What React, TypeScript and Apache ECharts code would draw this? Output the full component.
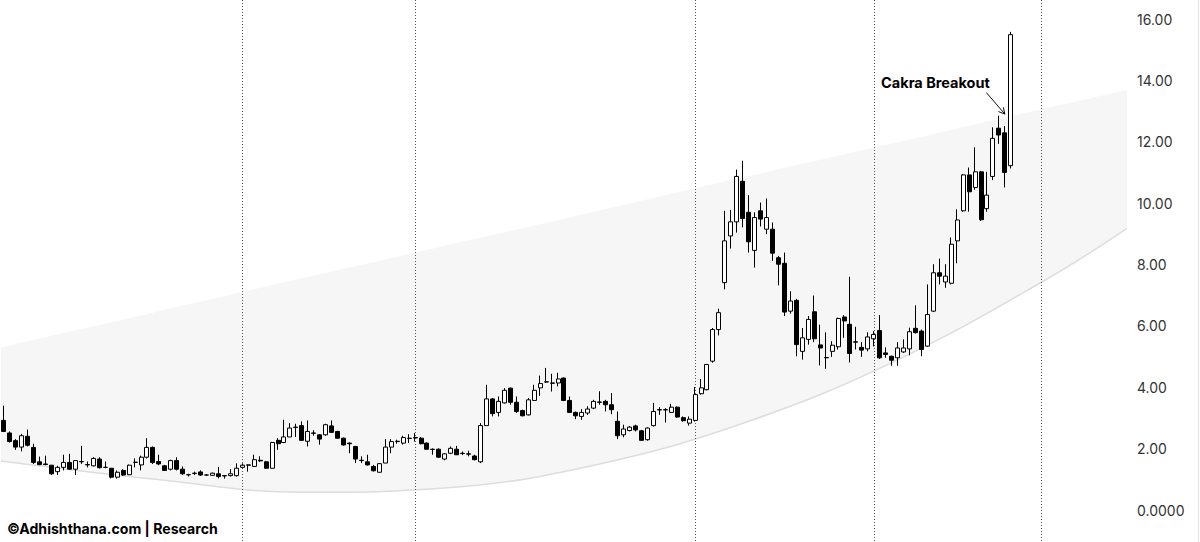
import React, { useEffect, useRef } from "react";
import * as echarts from "echarts";

// ---- Weekly OHLC values (slot 0 = leftmost candle) ----
const openP = [
  2.92, 2.51, 2.26, 2.05, 2.40, 2.04, 1.57, 1.50, 1.46, 1.25,
  1.39, 1.55, 1.33, 1.57, 1.48, 1.44, 1.66, 1.39, 1.36, 1.07,
  1.29, 1.15, 1.55, 1.47, 1.72, 2.04, 1.58, 1.44, 1.33, 1.61,
  1.33, 1.15, 1.20, 1.24, 1.14, 1.13, 1.18, 1.12, 1.12, 1.12,
  1.39, 1.46, 1.42, 1.62, 1.57, 1.36, 2.27, 2.20, 2.38, 2.70,
  2.75, 2.24, 2.51, 2.45, 2.45, 2.74, 2.56, 2.34, 2.18, 2.07,
  1.62, 1.57, 1.42, 1.23, 1.53, 2.05, 2.24, 2.18, 2.34, 2.36,
  2.34, 2.18, 1.98, 1.98, 1.66, 1.85, 1.98, 1.85, 1.83, 1.76,
  1.57, 2.75, 3.62, 3.18, 3.49, 3.97, 3.51, 3.24, 3.10, 3.57,
  3.98, 4.17, 4.14, 4.14, 4.30, 3.57, 3.18, 3.05, 3.16, 3.32,
  3.51, 3.54, 3.43, 2.89, 2.45, 2.59, 2.74, 2.58, 2.29, 2.75,
  3.27, 3.27, 3.18, 3.35, 3.01, 2.83, 2.92, 3.79, 3.92, 4.85,
  5.88, 7.41, 8.93, 9.39, 10.71, 9.70, 8.46, 9.75, 9.15, 9.15,
  8.22, 8.04, 6.48, 6.83, 5.17, 5.56, 6.46, 5.38, 4.97, 5.17,
  5.32, 6.29, 6.05, 5.48, 5.30, 5.25, 5.58, 5.85, 5.12, 5.01,
  4.96, 5.15, 5.25, 5.92, 5.83, 5.34, 6.48, 7.73, 7.43, 7.39,
  8.77, 9.75, 10.92, 10.51, 11.02, 9.82, 10.87, 12.44, 12.29, 11.22,
];
const highP = [
  3.40, 2.56, 2.31, 2.48, 2.62, 2.16, 1.74, 1.77, 1.46, 1.44,
  1.80, 1.83, 1.61, 2.09, 1.58, 1.72, 1.72, 1.58, 1.36, 1.29,
  1.33, 1.48, 1.68, 1.77, 2.34, 2.07, 1.80, 1.47, 1.64, 1.72,
  1.42, 1.18, 1.25, 1.29, 1.16, 1.22, 1.40, 1.12, 1.33, 1.52,
  1.52, 1.48, 1.80, 1.75, 1.60, 2.22, 2.34, 2.94, 2.83, 2.81,
  2.89, 2.92, 2.60, 2.47, 2.81, 2.92, 2.58, 2.36, 2.20, 2.09,
  1.75, 1.80, 1.47, 1.53, 2.31, 2.31, 2.29, 2.42, 2.47, 2.51,
  2.38, 2.20, 2.01, 2.01, 1.85, 2.07, 2.09, 1.91, 1.93, 1.80,
  2.83, 4.08, 3.65, 3.70, 3.97, 3.99, 3.70, 3.27, 3.65, 4.08,
  4.38, 4.63, 4.44, 4.47, 4.32, 3.70, 3.21, 3.29, 3.38, 3.59,
  3.87, 3.59, 3.81, 3.21, 2.78, 2.74, 2.78, 2.61, 2.69, 3.49,
  3.35, 3.32, 3.46, 3.38, 3.05, 3.05, 4.01, 4.27, 4.76, 5.93,
  6.56, 9.75, 9.78, 11.09, 11.38, 10.26, 9.70, 10.02, 10.15, 9.37,
  8.28, 8.39, 7.13, 6.88, 5.93, 6.32, 6.99, 6.04, 5.79, 5.50,
  6.27, 6.35, 7.60, 5.97, 5.47, 5.79, 5.83, 6.35, 5.30, 5.03,
  5.47, 5.56, 5.94, 6.67, 5.88, 7.35, 8.01, 8.19, 8.01, 8.88,
  9.80, 10.95, 11.16, 11.82, 11.05, 11.02, 12.47, 12.85, 12.51, 15.58,
];
const lowP = [
  2.54, 2.20, 1.96, 1.91, 2.07, 1.50, 1.46, 1.46, 1.14, 1.14,
  1.29, 1.31, 1.14, 1.50, 1.39, 1.42, 1.35, 1.36, 1.03, 1.02,
  1.11, 1.14, 1.39, 1.29, 1.68, 1.50, 1.46, 1.27, 1.29, 1.29,
  1.15, 1.09, 1.14, 1.11, 1.12, 1.11, 1.03, 1.02, 1.09, 1.09,
  1.36, 1.25, 1.40, 1.57, 1.35, 1.35, 1.96, 2.18, 2.38, 2.38,
  2.25, 2.07, 2.42, 2.13, 2.42, 2.51, 2.32, 2.10, 1.85, 1.53,
  1.53, 1.45, 1.25, 1.22, 1.53, 1.85, 2.16, 2.13, 2.18, 2.23,
  2.14, 1.96, 1.80, 1.70, 1.62, 1.82, 1.79, 1.79, 1.75, 1.62,
  1.53, 2.75, 3.05, 3.05, 3.47, 3.43, 3.16, 3.05, 3.08, 3.57,
  3.72, 4.14, 3.86, 4.03, 3.55, 3.16, 2.96, 2.94, 3.10, 3.29,
  3.43, 3.21, 3.12, 2.31, 2.37, 2.56, 2.56, 2.26, 2.26, 2.72,
  3.10, 2.85, 3.16, 3.01, 2.88, 2.75, 2.88, 3.76, 3.90, 4.80,
  5.69, 7.19, 8.52, 9.04, 9.21, 8.39, 7.90, 9.24, 8.99, 8.12,
  7.32, 6.32, 6.40, 5.01, 4.90, 5.39, 5.47, 4.71, 4.60, 4.99,
  5.23, 5.61, 4.81, 5.23, 4.99, 5.17, 5.33, 4.92, 4.96, 4.70,
  4.70, 5.12, 5.04, 5.75, 5.01, 5.32, 6.45, 7.35, 7.24, 7.35,
  8.04, 9.72, 9.72, 10.43, 9.42, 9.72, 10.75, 11.93, 10.51, 11.13,
];
const closeP = [
  2.56, 2.23, 2.05, 2.42, 2.11, 1.55, 1.48, 1.48, 1.18, 1.39,
  1.55, 1.33, 1.61, 1.58, 1.47, 1.68, 1.38, 1.39, 1.07, 1.23,
  1.14, 1.46, 1.56, 1.72, 2.04, 1.55, 1.50, 1.29, 1.61, 1.33,
  1.18, 1.15, 1.19, 1.14, 1.14, 1.20, 1.09, 1.11, 1.18, 1.36,
  1.46, 1.47, 1.64, 1.60, 1.36, 2.20, 2.16, 2.38, 2.67, 2.69,
  2.27, 2.56, 2.50, 2.31, 2.78, 2.53, 2.34, 2.12, 2.16, 1.66,
  1.61, 1.47, 1.28, 1.51, 2.05, 2.23, 2.23, 2.36, 2.33, 2.35,
  2.16, 1.98, 1.97, 1.72, 1.83, 2.01, 1.80, 1.84, 1.82, 1.64,
  2.75, 3.62, 3.14, 3.54, 3.90, 3.51, 3.21, 3.07, 3.59, 3.90,
  4.12, 4.18, 4.13, 4.27, 3.57, 3.18, 3.07, 3.18, 3.29, 3.54,
  3.52, 3.43, 3.27, 2.42, 2.64, 2.70, 2.61, 2.27, 2.67, 3.21,
  3.26, 3.26, 3.35, 3.03, 2.91, 2.96, 3.76, 3.98, 4.74, 5.88,
  6.43, 8.77, 9.39, 10.87, 9.50, 8.74, 9.53, 9.48, 9.53, 8.37,
  8.01, 6.45, 6.81, 5.39, 5.61, 6.21, 5.58, 5.28, 4.96, 5.37,
  6.24, 6.16, 5.10, 5.47, 5.21, 5.64, 5.72, 4.96, 5.07, 4.88,
  5.28, 5.28, 5.81, 5.78, 5.23, 6.37, 7.73, 7.62, 7.62, 8.66,
  9.45, 10.92, 10.37, 11.02, 9.46, 10.26, 12.11, 12.22, 11.00, 15.49,
];

// total slots on the time axis (the chart leaves empty room on the right)
const SLOT_COUNT = 189;
// vertical dotted cycle dividers (slot positions)
const dividerSlots = [40, 69, 116, 146, 174];

// curved channel (slot position, lower and upper price)
const bandSlots = [-0.5, 25, 50, 75, 100, 125, 150, 175, 188.5];
const bandLower = [1.6, 1.01, 0.58, 0.73, 1.5, 2.89, 4.89, 7.52, 9.18];
const bandUpper = [5.3, 6.43, 7.55, 8.65, 9.76, 10.88, 11.98, 13.1, 13.69];

// price axis
const priceMin = 0;
const priceMax = 16;
const priceStep = 2;

// annotation
const breakoutSlot = 168;
const breakoutLabel = "Cakra Breakout";
const watermarkText = "\u00A9Adhishthana.com | Research";

const FONT = "Inter, 'Noto Sans', 'Liberation Sans', sans-serif";

export default function App() {
  const ref = useRef<HTMLDivElement>(null);

  useEffect(() => {
    const chart = echarts.init(ref.current!, null, { renderer: "svg" });
    const categories = Array.from({ length: SLOT_COUNT }, (_, i) => String(i));
    const candles = openP.map((o, i) => [o, closeP[i], lowP[i], highP[i]]);
    const lowerData = bandSlots.map((s, i) => [s, bandLower[i]]);
    const upperData = bandSlots.map((s, i) => [s, bandUpper[i]]);

    const option: any = {
      animation: false,
      backgroundColor: "#ffffff",
      grid: [{ left: 1, right: 73, top: 19, bottom: 32, containLabel: false }],
      xAxis: [
        {
          type: "category",
          gridIndex: 0,
          data: categories,
          boundaryGap: true,
          show: false,
        },
        {
          type: "value",
          gridIndex: 0,
          min: -0.5,
          max: SLOT_COUNT - 0.5,
          show: false,
        },
      ],
      yAxis: [
        {
          type: "value",
          gridIndex: 0,
          position: "right",
          min: priceMin,
          max: priceMax,
          interval: priceStep,
          axisLine: { show: false },
          axisTick: { show: false },
          splitLine: { show: false },
          axisLabel: {
            margin: 10,
            color: "#333333",
            fontSize: 14,
            fontFamily: FONT,
            formatter: (v: number) => (v === 0 ? "0.0000" : v.toFixed(2)),
          },
        },
      ],
      series: [
        {
          type: "line",
          name: "channel-upper",
          xAxisIndex: 1,
          yAxisIndex: 0,
          data: upperData,
          smooth: 0.4,
          symbol: "none",
          silent: true,
          z: 0,
          lineStyle: { width: 0, opacity: 0 },
          areaStyle: { color: "#f6f6f6", opacity: 1, origin: "start" },
        },
        {
          type: "line",
          name: "channel-lower",
          xAxisIndex: 1,
          yAxisIndex: 0,
          data: lowerData,
          smooth: 0.4,
          symbol: "none",
          silent: true,
          z: 1,
          lineStyle: { color: "#dddddd", width: 1.5 },
          areaStyle: { color: "#ffffff", opacity: 1, origin: "start" },
        },
        {
          type: "custom",
          name: "dividers",
          xAxisIndex: 0,
          yAxisIndex: 0,
          data: dividerSlots.map((s) => [s, 0]),
          encode: { x: 0, y: 1 },
          silent: true,
          clip: false,
          z: 2,
          renderItem: (_params: any, api: any) => {
            const x = Math.round(api.coord([api.value(0), 0])[0]) + 0.5;
            return {
              type: "line",
              shape: { x1: x, y1: 0, x2: x, y2: api.getHeight() },
              style: { stroke: "#555555", lineWidth: 1, lineDash: [1, 2] },
            };
          },
        },
        {
          type: "candlestick",
          name: "price",
          xAxisIndex: 0,
          yAxisIndex: 0,
          data: candles,
          barWidth: 4.5,
          silent: true,
          z: 3,
          itemStyle: {
            color: "#ffffff",
            color0: "#000000",
            borderColor: "#000000",
            borderColor0: "#000000",
            borderWidth: 1,
          },
        },
        {
          type: "custom",
          name: "annotation",
          xAxisIndex: 0,
          yAxisIndex: 0,
          data: [[breakoutSlot, highP[breakoutSlot]]],
          encode: { x: 0, y: 1 },
          silent: true,
          clip: false,
          z: 4,
          renderItem: (_params: any, api: any) => {
            const p = api.coord([api.value(0), api.value(1)]);
            const tip = [p[0], p[1] - 12];
            const start = [p[0] - 18.5, p[1] - 33.5];
            const dx = tip[0] - start[0];
            const dy = tip[1] - start[1];
            const len = Math.sqrt(dx * dx + dy * dy);
            const ux = dx / len;
            const uy = dy / len;
            const head = 7;
            const ang = (28 * Math.PI) / 180;
            const rot = (a: number) => [
              tip[0] - head * (ux * Math.cos(a) - uy * Math.sin(a)),
              tip[1] - head * (ux * Math.sin(a) + uy * Math.cos(a)),
            ];
            return {
              type: "group",
              children: [
                {
                  type: "line",
                  shape: { x1: start[0], y1: start[1], x2: tip[0], y2: tip[1] },
                  style: { stroke: "#111111", lineWidth: 1 },
                },
                {
                  type: "polyline",
                  shape: { points: [rot(ang), tip, rot(-ang)] },
                  style: { stroke: "#111111", lineWidth: 1, fill: null },
                },
                {
                  type: "text",
                  style: {
                    text: breakoutLabel,
                    x: p[0] - 15,
                    y: p[1] - 44,
                    align: "right",
                    verticalAlign: "middle",
                    fill: "#000000",
                    font: `bold 14.5px ${FONT}`,
                  },
                },
              ],
            };
          },
        },
      ],
      graphic: [
        {
          type: "text",
          silent: true,
          style: {
            text: watermarkText,
            x: 7,
            y: 528,
            verticalAlign: "middle",
            fill: "#000000",
            font: `bold 14.1px ${FONT}`,
          },
        },
        {
          type: "line",
          silent: true,
          shape: { x1: 1198.5, y1: 0, x2: 1198.5, y2: 542 },
          style: { stroke: "#e2e2e2", lineWidth: 1 },
        },
      ],
    };

    chart.setOption(option);
    return () => chart.dispose();
  }, []);

  return (
    <div
      ref={ref}
      style={{ position: "absolute", left: 0, top: 0, width: 1200, height: 542, background: "#ffffff" }}
    />
  );
}
